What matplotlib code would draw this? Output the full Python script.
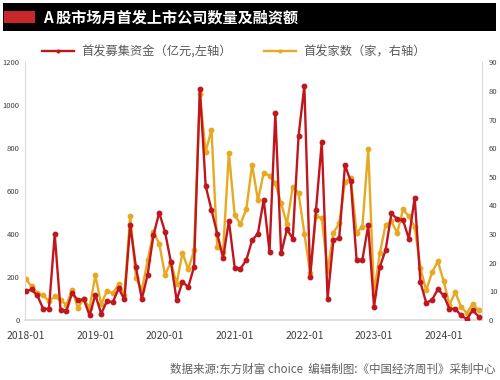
import numpy as np
import pandas as pd
import matplotlib
matplotlib.use("Agg")
import matplotlib.pyplot as plt
from matplotlib.patches import Rectangle

plt.rcParams['font.family'] = ['Noto Sans CJK SC', 'DejaVu Sans']

# monthly, 2018-01 .. 2024-07
months = pd.date_range("2018-01-01", "2024-07-01", freq="MS").strftime("%Y-%m").tolist()

# IPO fundraising (100m yuan, left axis)
ipo_funds = [133, 142, 114, 53, 52, 399, 48, 41, 127, 91, 97, 21,
             117, 29, 88, 82, 147, 96, 441, 245, 97, 210, 394, 500,
             410, 272, 92, 178, 153, 248, 1078, 624, 513, 401, 289, 461,
             244, 239, 279, 371, 402, 561, 318, 965, 310, 422, 379, 857,
             1091, 200, 510, 830, 99, 371, 381, 721, 645, 278, 281, 440,
             62, 247, 326, 496, 470, 465, 378, 570, 175, 79, 94, 143,
             114, 52, 52, 21, 3, 46, 16]

# number of IPOs (right axis)
ipo_count = [14.4, 11.7, 9.4, 8.6, 6.6, 8.2, 6.8, 5.4, 10.3, 4.3, 7.4, 4.2,
             15.6, 5.5, 10.2, 9.3, 12.4, 8.8, 36.4, 14.6, 10.3, 20.8, 30.7, 26.7,
             15.7, 20.3, 12.7, 23.4, 17.7, 24.3, 78.8, 58.7, 66.5, 25.6, 23.9, 58.4,
             36.6, 33.5, 38.6, 54.3, 41.8, 51.5, 50.4, 47.8, 40.7, 33.6, 46.5, 44.4,
             30.2, 16.3, 36.4, 35.5, 17.1, 30.4, 33.7, 48.3, 49.5, 30.5, 32.6, 59.6,
             9.2, 23.3, 33.3, 34.4, 30.4, 38.6, 36.2, 32.5, 18.0, 10.3, 16.7, 20.5,
             13.5, 5.3, 9.7, 4.6, 2.4, 5.7, 3.4]

year_labels = ['2018-01', '2019-01', '2020-01', '2021-01', '2022-01', '2023-01', '2024-01']

title = "A 股市场月首发上市公司数量及融资额"
label_funds = "首发募集资金（亿元,左轴）"
label_count = "首发家数（家，右轴）"
source = "数据来源:东方财富 choice  编辑制图:《中国经济周刊》采制中心"

RED = '#c0161d'
YELLOW = '#e8a922'
GRID = '#d9d9d9'


def main():
    fig = plt.figure(figsize=(5, 3.8), dpi=100)

    # title bar
    fig.patches.append(Rectangle((0.006, 0.919), 0.986, 0.072, transform=fig.transFigure,
                                 facecolor='black', edgecolor='none'))
    fig.patches.append(Rectangle((0.007, 0.940), 0.063, 0.030, transform=fig.transFigure,
                                 facecolor='#c8282a', edgecolor='none'))
    fig.text(0.086, 0.955, title, color='white', fontsize=10.9, fontweight='bold',
             va='center', ha='left')

    ax = fig.add_axes([0.05, 0.158, 0.914, 0.678])
    ax2 = ax.twinx()

    x = np.arange(len(months))
    ax.plot(x, ipo_funds, color=RED, lw=1.7, marker='o', ms=3.2, zorder=3,
            label=label_funds)
    ax2.plot(x, ipo_count, color=YELLOW, lw=1.7, marker='o', ms=3.2, zorder=2,
             label=label_count)
    ax.set_zorder(ax2.get_zorder() + 1)
    ax.patch.set_visible(False)

    ax.set_xlim(-0.12, 78.6)
    ax.set_ylim(0, 1200)
    ax2.set_ylim(0, 90)
    ax.set_yticks(np.arange(0, 1201, 200))
    ax2.set_yticks(np.arange(0, 91, 10))
    ax.set_xticks([months.index(m) for m in year_labels])
    ax.set_xticklabels(year_labels)

    for a in (ax, ax2):
        a.tick_params(length=0)
        for s in a.spines.values():
            s.set_visible(False)
    ax.tick_params(axis='y', labelsize=5.5, colors='#404040', pad=4)
    ax2.tick_params(axis='y', labelsize=5.5, colors='#404040', pad=5)
    ax.tick_params(axis='x', labelsize=7.5, colors='#404040', pad=8)
    ax.spines['left'].set_visible(True)
    ax.spines['left'].set_color(GRID)
    ax.spines['bottom'].set_visible(True)
    ax.spines['bottom'].set_color(GRID)
    ax.spines['bottom'].set_linewidth(1.2)
    ax2.spines['right'].set_visible(True)
    ax2.spines['right'].set_color(GRID)

    h1, l1 = ax.get_legend_handles_labels()
    h2, l2 = ax2.get_legend_handles_labels()
    fig.legend(h1 + h2, l1 + l2, loc='center', bbox_to_anchor=(0.468, 0.863), ncol=2,
               frameon=False, fontsize=8.8, handlelength=2.6, handletextpad=0.6,
               columnspacing=2.6, labelcolor='#595959', markerscale=0.6)

    fig.text(0.99, 0.029, source, color='#606060', fontsize=8.3, ha='right', va='center')

    fig.savefig("out.png", dpi=100)


main()
